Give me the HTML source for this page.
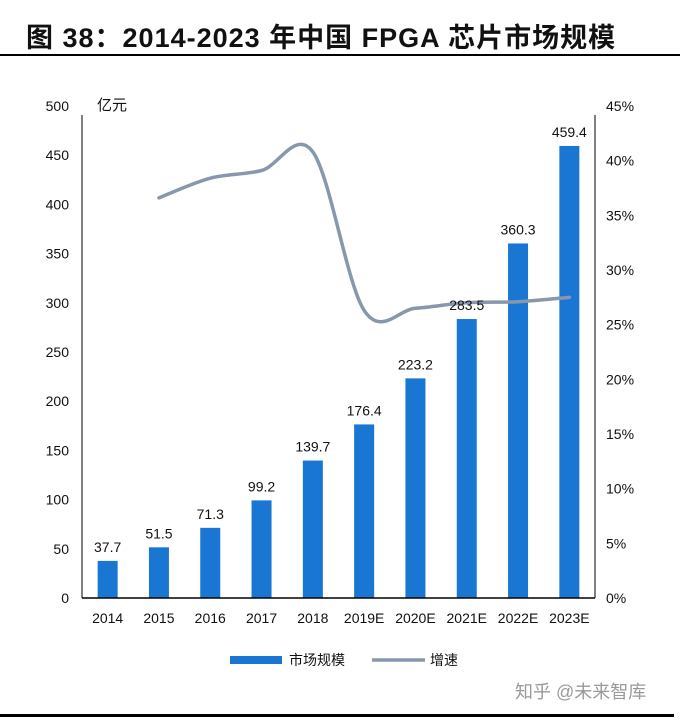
<!DOCTYPE html>
<html><head><meta charset="utf-8">
<style>
html,body{margin:0;padding:0;background:#fff;}
body{width:681px;height:720px;overflow:hidden;position:relative;font-family:"Liberation Sans","Noto Sans CJK SC",sans-serif;}
</style></head>
<body>
<div style="position:absolute;left:26px;top:16px;font-size:27px;letter-spacing:1px;font-weight:bold;color:#111;font-family:'Liberation Sans','Noto Sans CJK SC',sans-serif;white-space:nowrap;">图 38：2014-2023 年中国 FPGA 芯片市场规模</div>
<div style="position:absolute;left:0;top:54px;width:680px;height:2px;background:#000;"></div>
<div style="position:absolute;left:0;top:714px;width:674px;height:3px;background:#000;"></div>
<svg id="chart" width="681" height="720" style="position:absolute;left:0;top:0;font-family:'Liberation Sans','Noto Sans CJK SC',sans-serif;"></svg>
<script>
const categories=["2014","2015","2016","2017","2018","2019E","2020E","2021E","2022E","2023E"];
const marketSize=[37.7,51.5,71.3,99.2,139.7,176.4,223.2,283.5,360.3,459.4];
const growth=[null,36.6,38.4,39.1,40.8,26.3,26.5,27.0,27.1,27.5];
const leftTicks=[0,50,100,150,200,250,300,350,400,450,500];
const rightTicks=[0,5,10,15,20,25,30,35,40,45];
const NS="http://www.w3.org/2000/svg";
const svg=document.getElementById('chart');
const X0=82,X1=595,Y0=598,Y1=106;
const band=(X1-X0)/categories.length;
const xc=i=>X0+band*(i+0.5);
const yL=v=>Y0-(v/500)*(Y0-Y1);
const yR=v=>Y0-(v/45)*(Y0-Y1);
function mk(tag,attrs,txt){const e=document.createElementNS(NS,tag);for(const k in attrs)e.setAttribute(k,attrs[k]);if(txt!=null)e.textContent=txt;svg.appendChild(e);return e;}
let e;
e=mk('line',{x1:X0,y1:115,x2:X0,y2:Y0,stroke:'#000','stroke-width':1});


e=mk('line',{x1:X1,y1:115,x2:X1,y2:Y0,stroke:'#000','stroke-width':1});


leftTicks.forEach(v=>{e=mk('text',{x:69,y:yL(v)+5,'text-anchor':'end','font-size':14,fill:'#111'},String(v));

});
rightTicks.forEach(v=>{e=mk('text',{x:606,y:yR(v)+5,'font-size':14,fill:'#111'},v+'%');

});
e=mk('text',{x:97,y:110,'font-size':15,fill:'#111'},'亿元');


marketSize.forEach((v,i)=>{
 e=mk('rect',{x:xc(i)-10,y:yL(v),width:20,height:Y0-yL(v),fill:'#1976d2'});
 
 
 e=mk('text',{x:xc(i),y:623,'text-anchor':'middle','font-size':14,fill:'#111'},categories[i]);
 
 
});
e=mk('line',{x1:X0,y1:Y0,x2:X1,y2:Y0,stroke:'#000','stroke-width':1.5});


const pts=[];growth.forEach((g,i)=>{if(g!=null)pts.push([xc(i),yR(g)]);});
let d='M'+pts[0][0]+','+pts[0][1];
for(let i=0;i<pts.length-1;i++){const p0=pts[Math.max(0,i-1)],p1=pts[i],p2=pts[i+1],p3=pts[Math.min(pts.length-1,i+2)];
 const c1=[p1[0]+(p2[0]-p0[0])/6,p1[1]+(p2[1]-p0[1])/6],c2=[p2[0]-(p3[0]-p1[0])/6,p2[1]-(p3[1]-p1[1])/6];
 d+=' C'+c1[0]+','+c1[1]+' '+c2[0]+','+c2[1]+' '+p2[0]+','+p2[1];}
e=mk('path',{d:d,fill:'none',stroke:'#8797ac','stroke-width':3.5,'stroke-linecap':'round'});


marketSize.forEach((v,i)=>{
 e=mk('text',{x:xc(i),y:yL(v)-9,'text-anchor':'middle','font-size':14,fill:'#111'},v.toFixed(1));
 
 
});
e=mk('rect',{x:230,y:656,width:52,height:8,fill:'#1976d2'});


e=mk('text',{x:289,y:665,'font-size':14,fill:'#111'},'市场规模');


e=mk('line',{x1:372,y1:660,x2:425,y2:660,stroke:'#8797ac','stroke-width':3.5});


e=mk('text',{x:430,y:665,'font-size':14,fill:'#111'},'增速');


e=mk('text',{x:515,y:698,'font-size':18,fill:'#999'},'知乎 @未来智库');


</script>
</body></html>
